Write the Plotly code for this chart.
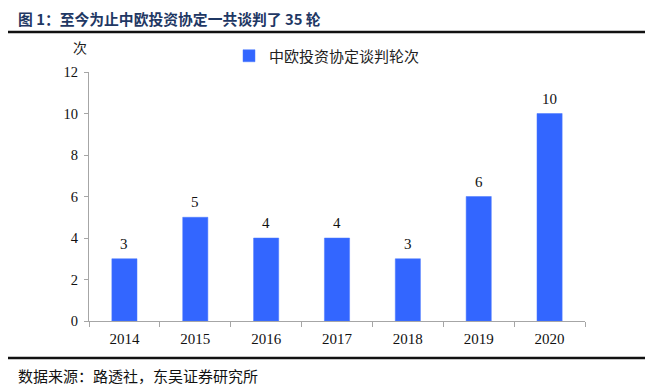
import plotly.graph_objects as go

years = ["2014", "2015", "2016", "2017", "2018", "2019", "2020"]
rounds = [3, 5, 4, 4, 3, 6, 10]
series_name = "中欧投资协定谈判轮次"
y_ticks = [0, 2, 4, 6, 8, 10, 12]

# page body has an 8px margin; work in reference pixel coords, offset by 8
OFF = 8
W, H = 655 - OFF, 390 - OFF
L, R, T, B = 89 - OFF, 70, 72 - OFF, 69
pw, ph = W - L - R, H - T - B

def px(x):
    return (x - OFF - L) / pw

def py(y):
    return (H - B - (y - OFF)) / ph

serif = "Liberation Serif, Times New Roman, serif"
cjk = "Noto Sans CJK SC, sans-serif"

fig = go.Figure()
fig.add_trace(go.Bar(
    x=years, y=rounds, name=series_name,
    marker=dict(color="#3366FF", line=dict(color="#4a78ff", width=0.5)),
    width=0.355,
))

for i, v in enumerate(rounds):
    fig.add_annotation(x=i, y=v, xref="x", yref="y", text=str(v), showarrow=False,
                       xanchor="center", yanchor="bottom", yshift=5,
                       font=dict(family=serif, size=15, color="#111111"))

fig.update_layout(
    width=W, height=H,
    margin=dict(l=L, r=R, t=T, b=B),
    paper_bgcolor="white", plot_bgcolor="white",
    showlegend=True,
    legend=dict(x=px(229), y=py(56), xanchor="left", yanchor="middle",
                font=dict(family=cjk, size=15, color="#222222"),
                bgcolor="rgba(0,0,0,0)", itemwidth=30),
    title=dict(text="<b>图 1：至今为止中欧投资协定一共谈判了 35 轮</b>",
               x=10 / W, xanchor="left", y=1 - (19.5 - OFF) / H, yanchor="middle",
               font=dict(family=cjk, size=14.8, color="#1F3864")),
    xaxis=dict(type="category", categoryorder="array", categoryarray=years,
               range=[-0.5, len(years) - 0.5],
               showline=True, linecolor="#A6A6A6", linewidth=1,
               ticks="outside", tickson="boundaries", ticklen=5, tickcolor="#A6A6A6",
               tickfont=dict(family=serif, size=15, color="#111111"),
               ticklabelstandoff=4, showgrid=False),
    yaxis=dict(range=[0, 12], tickvals=y_ticks, showline=True, linecolor="#A6A6A6",
               linewidth=1, ticks="outside", ticklen=4, tickcolor="#A6A6A6",
               tickfont=dict(family=serif, size=14.5, color="#111111"),
               ticklabelstandoff=3, showgrid=False, zeroline=False),
)

fig.add_annotation(text="次", xref="paper", yref="paper", x=px(80), y=py(47),
                   showarrow=False, xanchor="center", yanchor="middle",
                   font=dict(family=cjk, size=14, color="#222222"))
fig.add_annotation(text="数据来源：路透社，东吴证券研究所", xref="paper", yref="paper",
                   x=px(16), y=py(375), showarrow=False, xanchor="left", yanchor="middle",
                   font=dict(family=cjk, size=15, color="#111111"))

fig.add_shape(type="line", xref="paper", yref="paper", x0=px(8), x1=px(645),
              y0=py(32), y1=py(32), line=dict(color="#111111", width=2.5))
fig.add_shape(type="line", xref="paper", yref="paper", x0=px(8), x1=px(645),
              y0=py(358), y1=py(358), line=dict(color="#111111", width=2.5))

fig.write_html("out.html")
